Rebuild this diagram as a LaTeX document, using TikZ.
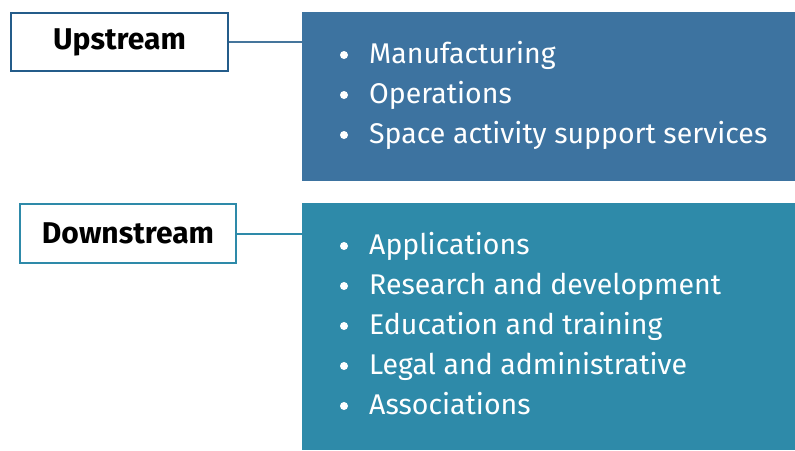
\documentclass[tikz,border=0pt]{standalone}
\usepackage{fontspec}
\setmainfont{Fira Sans}
\usetikzlibrary{positioning}
\definecolor{upblue}{HTML}{3D73A0}
\definecolor{upedge}{HTML}{245C8A}
\definecolor{downteal}{HTML}{2E8AA9}
\tikzset{
  tag/.style={draw, line width=2pt, fill=white, font=\fontsize{30}{34}\selectfont\bfseries, inner sep=0pt},
  panel/.style={inner sep=0pt, minimum width=493pt},
  item/.style={anchor=base west, text=white, inner sep=0pt, font=\fontsize{28.5}{32}\selectfont},
  dot/.style={circle, fill=white, inner sep=0pt, minimum size=8pt},
  link/.style={line width=2pt}
}
\begin{document}
\begin{tikzpicture}[x=1pt, y=-1pt]
  \useasboundingbox (0,0) rectangle (795,450);
  % upstream
  \node[tag, draw=upedge, minimum width=217pt, minimum height=58pt] (upl) at (119.5,42) {Upstream};
  \node[panel, fill=upblue, minimum height=169pt] (upbox) at (548.5,96.5) {};
  \draw[link, upedge!85] (upl.east) -- (upl.east -| upbox.west);
  \foreach \t [count=\i] in {Manufacturing, Operations, Space activity support services}{
    \node[dot] (upb-\i) at (344,{55+40*(\i-1)}) {};
    \node[item] (upi-\i) at (369,{63+40*(\i-1)}) {\t};
  }
  % downstream
  \node[tag, draw=downteal, minimum width=216pt, minimum height=59pt] (downl) at (128,233.5) {Downstream};
  \node[panel, fill=downteal, minimum height=247pt] (downbox) at (548.5,326.5) {};
  \draw[link, downteal] (downl.east) -- (downl.east -| downbox.west);
  \foreach \t [count=\i] in {Applications, Research and development, Education and training, Legal and administrative, Associations}{
    \node[dot] (downb-\i) at (344,{246+40*(\i-1)}) {};
    \node[item] (downi-\i) at (369,{254+40*(\i-1)}) {\t};
  }
\end{tikzpicture}
\end{document}
